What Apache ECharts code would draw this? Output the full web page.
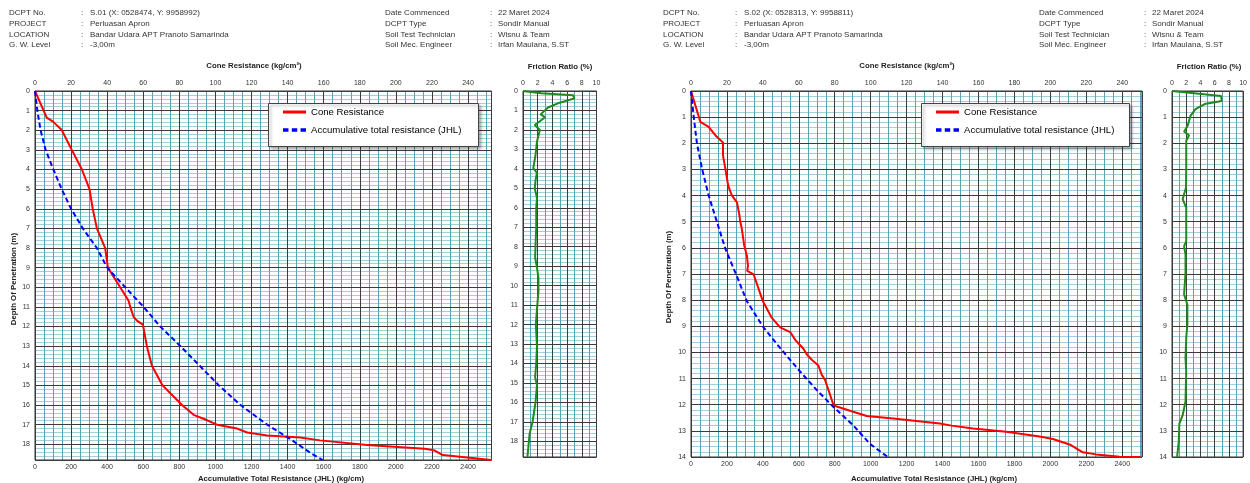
<!DOCTYPE html>
<html>
<head>
<meta charset="utf-8">
<script src="https://cdn.jsdelivr.net/npm/echarts@6/dist/echarts.min.js"></script>
<style>
html,body{margin:0;padding:0;background:#fff;}
#c{width:1250px;height:483px;}
</style>
</head>
<body>
<div id="c"></div>
<script>
// ---------- DATA ----------
// S.01
var s1ConeDepth = [0,1.36,1.56,1.99,3,4,5,6,7,8,9,10,10.5,10.7,11,11.5,11.7,11.9,12,13,14,15,15.4,16,16.5,16.7,17,17.2,17.4,17.55,17.65,17.8,18.03,18.23,18.3,18.55,18.8];
var s1ConeQc    = [0,6.5,10,14.8,20.4,26,30.2,32,34.3,38.9,40.4,47.2,50.6,51.9,52.8,54.6,56.5,59.8,60.6,62,64.8,70.7,75,81.5,87.9,93.4,100.9,112,117.6,128.7,147,158,184,216,221,226,253];
var s1JhlDepth  = [0,1,2,3,4,5,6,7,8,9,10,11,12,13,14,15,16,17,17.75,18.5,18.8];
var s1Jhl       = [0,13,31,59,102,148,200,265,343,400,500,602,694,806,913,1019,1139,1287,1417,1537,1594];
var s1FrDepth   = [0,0.12,0.22,0.38,0.6,0.85,1.2,1.35,1.55,1.75,2.0,2.6,3.3,3.96,4.2,4.6,5.0,5.5,6.0,7.0,8.0,8.55,9.06,9.6,10.3,11.2,12.0,13.1,14.0,14.7,15.1,16.0,17.0,17.6,18.8];
var s1Fr        = [0,2.5,6.8,7.0,5.0,3.4,2.4,3.0,2.3,1.6,2.3,1.9,1.7,1.4,1.9,1.7,1.6,1.9,1.8,1.8,1.7,1.65,1.9,2.1,2.1,1.9,1.75,1.9,1.8,1.65,1.9,1.7,1.3,0.9,0.6];
// S.02
var s2ConeDepth = [0,1.18,1.37,1.69,1.97,2.0,2.46,2.97,3.5,3.69,4.0,4.26,4.77,4.96,5.28,5.9,6.3,6.69,6.75,6.88,7.01,8.04,8.68,9.04,9.22,9.52,9.86,10.07,10.28,10.5,10.86,11.05,12.01,12.07,12.27,12.43,12.53,12.72,12.8,12.91,13.03,13.22,13.31,13.52,13.82,13.9,13.99,14.0];
var s2ConeQc    = [0,5.2,9.8,13.5,17.8,18.4,17.8,19.1,20.4,21,22.8,25.6,27,27.3,28.3,29.6,31.1,31.7,31.9,31.3,34.8,40.0,45,49.6,55.2,58,62.6,64.4,67.2,70.9,72.8,74.6,79.3,81.1,90.3,97.8,112.6,138.5,145,157,175.5,194,201.4,210.7,218.1,225.5,238.5,250];
var s2JhlDepth  = [0,0.97,2,2.96,3.99,5,6.03,7.0,8.04,9.04,9.83,10.73,11.44,12.08,12.79,13.5,14.0];
var s2Jhl       = [0,14.8,33,61,98,144,191,250,311,403,496,607,700,792,903,996,1095];
var s2FrDepth   = [0,0.19,0.38,0.5,0.69,0.95,1.33,1.55,1.69,1.9,2.92,3.69,4.14,4.46,5.74,5.94,6.26,6.96,7.78,8.17,8.94,9.45,10.22,10.73,11.88,12.4,12.72,13.42,14.0];
var s2Fr        = [0,6.9,7.0,4.6,3.3,2.6,2.2,1.7,2.4,2.0,2.0,1.97,1.5,2.0,2.0,1.7,1.9,1.9,1.7,2.16,2.16,2.0,1.9,2.0,1.9,1.5,1.04,0.95,0.72];

var headerLabels = ['DCPT No.','PROJECT','LOCATION','G. W. Level'];
var s1HeaderValues = ['S.01 (X: 0528474, Y: 9958992)','Perluasan Apron','Bandar Udara APT Pranoto Samarinda','-3,00m'];
var s2HeaderValues = ['S.02 (X: 0528313, Y: 9958811)','Perluasan Apron','Bandar Udara APT Pranoto Samarinda','-3,00m'];
var header2Labels = ['Date Commenced','DCPT Type','Soil Test Technician','Soil Mec. Engineer'];
var header2Values = ['22 Maret 2024','Sondir Manual','Wisnu & Team','Irfan Maulana, S.ST'];

var coneName = 'Cone Resistance';
var jhlName = 'Accumulative total resistance (JHL)';
var titleCone = 'Cone Resistance (kg/cm\u00b2)';
var titleJhl = 'Accumulative Total Resistance (JHL) (kg/cm)';
var titleDepth = 'Depth Of Penetration (m)';
var titleFr = 'Friction Ratio (%)';

// ---------- BUILD ----------
function pairs(d, v){ var o=[]; for(var i=0;i<d.length;i++){ o.push([v[i], d[i]]); } return o; }

var FONT = 'Liberation Sans, Arial, sans-serif';
var MAJOR = '#3c3c3c', VMINOR = '#5aa2b5', HMINOR = '#a3cfdb';
function tickLbl(extra){
  return Object.assign({fontSize:7, color:'#333', fontFamily:FONT, formatter:function(v){ return String(v); }}, extra);
}

var grids = [
  {left:35, top:91, width:456.5, height:369},
  {left:523, top:91, width:73.5, height:366},
  {left:691, top:91, width:451, height:366},
  {left:1172, top:91, width:74.5, height:366}
].map(function(g){ return Object.assign({show:true, borderColor:'#333', borderWidth:1, backgroundColor:'transparent', z:1}, g); });

var xAxes = [], yAxes = [];
function majorX(grid, max, interval, pos, showSplit, showMax){
  xAxes.push({type:'value', gridIndex:grid, min:0, max:max, interval:interval, position:pos, z:1,
    axisLine:{show:false}, axisTick:{show:false},
    axisLabel:tickLbl({margin:4, showMaxLabel:showMax}),
    splitLine:{show:showSplit, lineStyle:{color:MAJOR, width:1}}});
  return xAxes.length-1;
}
function minorX(grid, max, interval){
  xAxes.push({type:'value', gridIndex:grid, min:0, max:max, interval:interval, position:'top', z:0,
    axisLine:{show:false}, axisTick:{show:false}, axisLabel:{show:false},
    splitLine:{show:true, lineStyle:{color:VMINOR, width:1}}});
  return xAxes.length-1;
}
function majorY(grid, max, showMax){
  yAxes.push({type:'value', gridIndex:grid, min:0, max:max, interval:1, inverse:true, position:'left', z:1,
    axisLine:{show:false}, axisTick:{show:false},
    axisLabel:tickLbl({margin:5, showMaxLabel:showMax}),
    splitLine:{show:true, lineStyle:{color:MAJOR, width:1}}});
  return yAxes.length-1;
}
function minorY(grid, max){
  yAxes.push({type:'value', gridIndex:grid, min:0, max:max, interval:0.2, inverse:true, position:'left', z:0,
    axisLine:{show:false}, axisTick:{show:false}, axisLabel:{show:false},
    splitLine:{show:true, lineStyle:{color:HMINOR, width:1}}});
  return yAxes.length-1;
}

// chart 1
minorX(0, 253, 5);
var x1cone = majorX(0, 253, 20, 'top', true, false);
var x1jhl = majorX(0, 2530, 200, 'bottom', false, false);
minorX(1, 10, 1);
var x1fr = majorX(1, 10, 2, 'top', true, true);
minorY(0, 18.8);
var y1 = majorY(0, 18.8, false);
minorY(1, 18.8);
var y1f = majorY(1, 18.8, false);
// chart 2
minorX(2, 251, 5);
var x2cone = majorX(2, 251, 20, 'top', true, false);
var x2jhl = majorX(2, 2510, 200, 'bottom', false, false);
minorX(3, 10, 1);
var x2fr = majorX(3, 10, 2, 'top', true, true);
minorY(2, 14);
var y2 = majorY(2, 14, true);
minorY(3, 14);
var y2f = majorY(3, 14, true);

function lineSeries(name, xi, yi, data, color, dashed){
  return {type:'line', name:name, xAxisIndex:xi, yAxisIndex:yi, data:data, symbol:'none', showSymbol:false, z:3,
    lineStyle:{color:color, width:2, type: dashed ? [5,3] : 'solid'}, itemStyle:{color:color}, animation:false};
}

var series = [
  lineSeries(coneName, x1cone, y1, pairs(s1ConeDepth, s1ConeQc), '#ff0000', false),
  lineSeries(jhlName, x1jhl, y1, pairs(s1JhlDepth, s1Jhl), '#0000ff', true),
  lineSeries('Friction Ratio S01', x1fr, y1f, pairs(s1FrDepth, s1Fr), '#1e8a1e', false),
  lineSeries(coneName, x2cone, y2, pairs(s2ConeDepth, s2ConeQc), '#ff0000', false),
  lineSeries(jhlName, x2jhl, y2, pairs(s2JhlDepth, s2Jhl), '#0000ff', true),
  lineSeries('Friction Ratio S02', x2fr, y2f, pairs(s2FrDepth, s2Fr), '#1e8a1e', false)
];

var graphics = [];
function txt(x, y, text, opts){
  opts = opts || {};
  graphics.push({type:'text', x:x, y:y, rotation:opts.rot||0, z:10,
    style:{text:text, fill:opts.color||'#222', font:(opts.bold?'bold ':'')+(opts.size||8)+'px '+FONT,
      align:opts.align||'left', verticalAlign:'middle'}});
}
var rowsY = [13, 24, 34.5, 45];
function header(dx, vals){
  for (var i=0;i<4;i++){
    txt(9+dx, rowsY[i], headerLabels[i], {color:'#333'});
    txt(81+dx, rowsY[i], ':', {color:'#333'});
    txt(90+dx, rowsY[i], vals[i], {color:'#333'});
    txt(385+dx, rowsY[i], header2Labels[i], {color:'#333'});
    txt(490+dx, rowsY[i], ':', {color:'#333'});
    txt(498+dx, rowsY[i], header2Values[i], {color:'#333'});
  }
}
header(0, s1HeaderValues);
header(654, s2HeaderValues);

function titles(cx, fx, jx, dx, dy){
  txt(cx, 66, titleCone, {bold:true, size:7.8, align:'center'});
  txt(fx, 67, titleFr, {bold:true, size:7.8, align:'center'});
  txt(jx, 479, titleJhl, {bold:true, size:7.8, align:'center'});
  txt(dx, dy, titleDepth, {bold:true, size:7.8, align:'center', rot:Math.PI/2});
}
titles(254, 560, 281, 14, 279);
titles(907, 1209, 934, 669, 277);

// legend boxes
function legBox(x, y, w, h){
  graphics.push({type:'rect', z:5, shape:{x:x, y:y, width:w, height:h},
    style:{fill:'#fff', stroke:'#444', lineWidth:1, shadowBlur:3, shadowColor:'rgba(0,0,0,0.35)', shadowOffsetX:2, shadowOffsetY:2}});
}
legBox(268.5, 103.5, 210, 43);
legBox(921.5, 103.5, 208, 43);

var iconSolid = 'path://M0,0h23v3h-23z';
var iconDash = 'path://M0,0h5v3h-5z M8,0h5v3h-5z M16,0h5v3h-5z';
function legend(left){
  return {left:left, top:107, orient:'vertical', itemWidth:23, itemHeight:14, itemGap:8, padding:0, z:6,
    data:[{name:coneName, icon:iconSolid}, {name:jhlName, icon:iconDash}], selectedMode:false,
    textStyle:{fontSize:9.6, color:'#000', fontFamily:FONT}};
}

var chart = echarts.init(document.getElementById('c'), null, {renderer:'canvas'});
chart.setOption({
  backgroundColor:'#ffffff',
  animation:false,
  grid:grids,
  xAxis:xAxes,
  yAxis:yAxes,
  legend:[legend(283), legend(936)],
  graphic:graphics,
  series:series
});
</script>
</body>
</html>
